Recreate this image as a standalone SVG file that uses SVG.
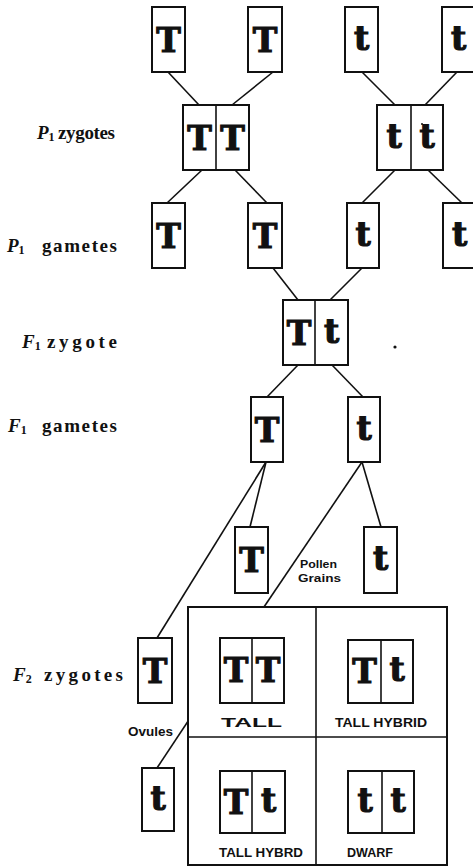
<svg xmlns="http://www.w3.org/2000/svg" width="473" height="868" viewBox="0 0 473 868">
<style>
.box{fill:#fff;stroke:#111;stroke-width:2}
.div{stroke:#111;stroke-width:1.6}
.g{font-family:"DejaVu Serif","Liberation Serif",serif;font-weight:bold;font-size:33px;fill:#111;stroke:#111;stroke-width:1.2;text-anchor:middle}
.lbl{font-family:"Liberation Serif","DejaVu Serif",serif;font-weight:bold;font-size:19px;fill:#111}
.it{font-style:italic}
.sub{font-size:12px}
.sm{font-family:"Liberation Sans","DejaVu Sans",sans-serif;font-weight:bold;fill:#111}
#connectors line{stroke:#111;stroke-width:1.6;fill:none}
</style>
<rect width="473" height="868" fill="#fff"/>

<g id="connectors">
<line x1="168" y1="72" x2="199" y2="105"/>
<line x1="273" y1="72" x2="232" y2="105"/>
<line x1="362" y1="72" x2="395" y2="105"/>
<line x1="457" y1="72" x2="425" y2="105"/>
<line x1="202" y1="170" x2="167" y2="203"/>
<line x1="235" y1="170" x2="267" y2="203"/>
<line x1="395" y1="170" x2="362" y2="203"/>
<line x1="428" y1="170" x2="462" y2="203"/>
<line x1="273" y1="268" x2="298" y2="300"/>
<line x1="362" y1="268" x2="330" y2="300"/>
<line x1="298" y1="365" x2="267" y2="397"/>
<line x1="332" y1="365" x2="363" y2="397"/>
<line x1="266" y1="462" x2="250" y2="527"/>
<line x1="266" y1="462" x2="157" y2="638"/>
<line x1="362" y1="462" x2="381" y2="527"/>
<line x1="362" y1="462" x2="243" y2="638"/>
<line x1="157" y1="768" x2="220" y2="673"/>
</g>

<g id="labels">
<text class="lbl" x="37" y="139"><tspan class="it">P</tspan><tspan class="sub" dy="2">1</tspan></text>
<text class="lbl" x="58" y="139" textLength="57" lengthAdjust="spacing">zygotes</text>
<text class="lbl" x="7" y="252"><tspan class="it">P</tspan><tspan class="sub" dy="2">1</tspan></text>
<text class="lbl" x="42" y="252" textLength="75" lengthAdjust="spacing">gametes</text>
<text class="lbl" x="22" y="348"><tspan class="it">F</tspan><tspan class="sub" dy="2">1</tspan></text>
<text class="lbl" x="47" y="348" textLength="70" lengthAdjust="spacing">zygote</text>
<text class="lbl" x="8" y="432"><tspan class="it">F</tspan><tspan class="sub" dy="2">1</tspan></text>
<text class="lbl" x="42" y="432" textLength="75" lengthAdjust="spacing">gametes</text>
<text class="lbl" x="13" y="681"><tspan class="it">F</tspan><tspan class="sub" dy="2">2</tspan></text>
<text class="lbl" x="44" y="681" textLength="79" lengthAdjust="spacing">zygotes</text>
<text class="sm" x="300" y="568" font-size="11" textLength="37" lengthAdjust="spacingAndGlyphs">Pollen</text>
<text class="sm" x="298" y="582" font-size="11" textLength="43" lengthAdjust="spacingAndGlyphs">Grains</text>
<text class="sm" x="128" y="736" font-size="13" textLength="45" lengthAdjust="spacingAndGlyphs">Ovules</text>
<circle cx="395" cy="347" r="1.6" fill="#111"/>
</g>

<g id="p0-T1"><rect class="box" x="152" y="7" width="33" height="65"/><text class="g" x="168.5" y="52">T</text></g>
<g id="p0-T2"><rect class="box" x="248" y="7" width="34" height="65"/><text class="g" x="265" y="52">T</text></g>
<g id="p0-t1"><rect class="box" x="345" y="7" width="33" height="65"/><text class="g" x="361.5" y="50">t</text></g>
<g id="p0-t2"><rect class="box" x="442" y="7" width="33" height="65"/><text class="g" x="458.5" y="50">t</text></g>

<g id="p1-TT"><rect class="box" x="183" y="105" width="66" height="65"/><line class="div" x1="216" y1="105" x2="216" y2="170"/><text class="g" x="199.5" y="150">T</text><text class="g" x="232.5" y="150">T</text></g>
<g id="p1-tt"><rect class="box" x="377" y="105" width="66" height="65"/><line class="div" x1="411" y1="105" x2="411" y2="170"/><text class="g" x="394" y="148">t</text><text class="g" x="427" y="148">t</text><circle cx="422" cy="124" r="1" fill="#111"/></g>

<g id="p1g-T1"><rect class="box" x="152" y="203" width="33" height="65"/><text class="g" x="168.5" y="248">T</text></g>
<g id="p1g-T2"><rect class="box" x="248" y="203" width="34" height="65"/><text class="g" x="265" y="248">T</text></g>
<g id="p1g-t1"><rect class="box" x="347" y="203" width="32" height="65"/><text class="g" x="363" y="246">t</text></g>
<g id="p1g-t2"><rect class="box" x="443" y="203" width="33" height="65"/><text class="g" x="459.5" y="246">t</text></g>

<g id="f1-Tt"><rect class="box" x="283" y="300" width="65" height="65"/><line class="div" x1="315" y1="300" x2="315" y2="365"/><text class="g" x="299" y="345">T</text><text class="g" x="331.5" y="343">t</text></g>

<g id="f1g-T"><rect class="box" x="251" y="397" width="32" height="65"/><text class="g" x="267" y="442">T</text></g>
<g id="f1g-t"><rect class="box" x="348" y="397" width="32" height="65"/><text class="g" x="364" y="440">t</text></g>

<g id="pollen-T"><rect class="box" x="235" y="527" width="33" height="66"/><text class="g" x="251.5" y="572">T</text></g>
<g id="pollen-t"><rect class="box" x="364" y="527" width="33" height="66"/><text class="g" x="380.5" y="570">t</text></g>

<g id="ovule-T"><rect class="box" x="138" y="638" width="34" height="65"/><text class="g" x="155" y="683">T</text></g>
<g id="ovule-t"><rect class="box" x="142" y="768" width="32" height="63"/><text class="g" x="158" y="810">t</text></g>

<g id="grid">
<rect class="box" x="188" y="607" width="259" height="258" fill="none"/>
<line class="div" x1="316" y1="607" x2="316" y2="865"/>
<line class="div" x1="188" y1="737" x2="447" y2="737"/>
</g>

<g id="f2-TT"><rect class="box" x="220" y="638" width="64" height="65"/><line class="div" x1="252" y1="638" x2="252" y2="703"/><text class="g" x="236" y="682">T</text><text class="g" x="268" y="682">T</text><text class="sm" x="221" y="727" font-size="13" textLength="61" lengthAdjust="spacingAndGlyphs">TALL</text></g>
<g id="f2-Tt1"><rect class="box" x="348" y="640" width="65" height="63"/><line class="div" x1="381" y1="640" x2="381" y2="703"/><text class="g" x="364.5" y="683">T</text><text class="g" x="397" y="681">t</text><text class="sm" x="335" y="727" font-size="13" textLength="92" lengthAdjust="spacingAndGlyphs">TALL HYBRID</text></g>
<g id="f2-Tt2"><rect class="box" x="220" y="771" width="65" height="62"/><line class="div" x1="252" y1="771" x2="252" y2="833"/><text class="g" x="236" y="814">T</text><text class="g" x="268.5" y="812">t</text><text class="sm" x="219" y="857" font-size="13" textLength="84" lengthAdjust="spacingAndGlyphs">TALL HYBRD</text></g>
<g id="f2-tt"><rect class="box" x="348" y="771" width="66" height="62"/><line class="div" x1="382" y1="771" x2="382" y2="833"/><text class="g" x="365" y="812">t</text><text class="g" x="398" y="812">t</text><text class="sm" x="347" y="857" font-size="13" textLength="46" lengthAdjust="spacingAndGlyphs">DWARF</text></g>
</svg>
